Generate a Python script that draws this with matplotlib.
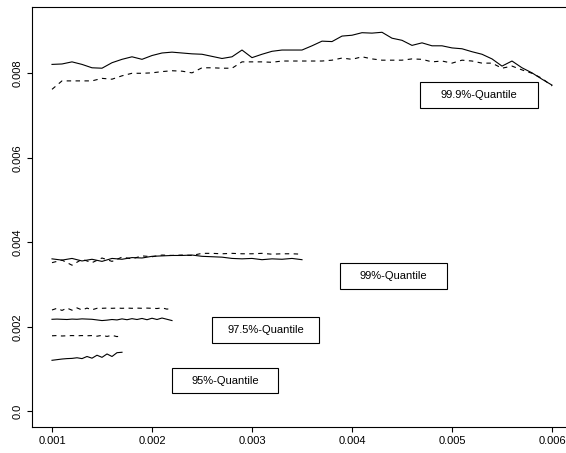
import matplotlib
matplotlib.use("Agg")
import matplotlib.pyplot as plt
import numpy as np
from matplotlib.patches import Rectangle

plt.rcParams['font.family'] = ['Liberation Sans', 'DejaVu Sans']
plt.rcParams['font.size'] = 8

# 99.9% quantile, x = 0.001 .. 0.006
x999 = np.round(np.arange(0.0010, 0.00601, 0.0001), 5)
q999_solid = [0.00821, 0.00822, 0.00827, 0.00821, 0.00813, 0.00812, 0.00825, 0.00833, 0.00839, 0.00833,
              0.00842, 0.00848, 0.00850, 0.00848, 0.00846, 0.00845, 0.00840, 0.00835, 0.00839, 0.00855,
              0.00837, 0.00845, 0.00852, 0.00855, 0.00855, 0.00855, 0.00865, 0.00876, 0.00875, 0.00888,
              0.00890, 0.00896, 0.00895, 0.00897, 0.00883, 0.00878, 0.00866, 0.00872, 0.00865, 0.00865,
              0.00860, 0.00858, 0.00851, 0.00845, 0.00834, 0.00817, 0.00829, 0.00813, 0.00801, 0.00786,
              0.00772]
q999_dash = [0.00762, 0.00782, 0.00782, 0.00782, 0.00782, 0.00788, 0.00786, 0.00794, 0.00800, 0.00800,
             0.00801, 0.00804, 0.00806, 0.00805, 0.00801, 0.00813, 0.00813, 0.00812, 0.00812, 0.00827,
             0.00827, 0.00827, 0.00826, 0.00829, 0.00829, 0.00829, 0.00829, 0.00829, 0.00831, 0.00836,
             0.00833, 0.00839, 0.00834, 0.00831, 0.00831, 0.00831, 0.00834, 0.00833, 0.00827, 0.00829,
             0.00824, 0.00831, 0.00829, 0.00824, 0.00824, 0.00812, 0.00817, 0.00808, 0.00800, 0.00788,
             0.00770]

# 99% quantile, x = 0.001 .. 0.0035
x99 = np.round(np.arange(0.0010, 0.00351, 0.0001), 5)
q99_solid = [0.00361, 0.00358, 0.00362, 0.00356, 0.00360, 0.00355, 0.00362, 0.00360, 0.00364, 0.00363,
             0.00367, 0.00368, 0.00369, 0.00369, 0.00370, 0.00367, 0.00366, 0.00365, 0.00362, 0.00361,
             0.00362, 0.00359, 0.00361, 0.00360, 0.00362, 0.00359]
q99_dash = [0.00352, 0.00358, 0.00346, 0.00360, 0.00352, 0.00363, 0.00355, 0.00365, 0.00361, 0.00368,
            0.00366, 0.00370, 0.00369, 0.00370, 0.00369, 0.00374, 0.00374, 0.00373, 0.00374, 0.00373,
            0.00373, 0.00374, 0.00372, 0.00373, 0.00373, 0.00372]

# 97.5% quantile, x = 0.001 .. 0.0022
x975 = np.round(np.arange(0.0010, 0.002201, 0.00005), 6)
q975_solid = [0.002180, 0.002185, 0.002180, 0.002175, 0.002185, 0.002180, 0.002190, 0.002185, 0.002180,
              0.002165, 0.002150, 0.002160, 0.002175, 0.002165, 0.002190, 0.002170, 0.002195, 0.002175,
              0.002200, 0.002170, 0.002205, 0.002175, 0.002210, 0.002180, 0.002150]
q975_dash = [0.002400, 0.002440, 0.002390, 0.002445, 0.002395, 0.002450, 0.002400, 0.002445, 0.002405,
             0.002440, 0.002440, 0.002445, 0.002440, 0.002445, 0.002440, 0.002445, 0.002440, 0.002445,
             0.002440, 0.002445, 0.002440, 0.002435, 0.002450, 0.002420, 0.002445]

# 95% quantile, x = 0.001 .. 0.0017
x95 = np.round(np.arange(0.0010, 0.001701, 0.00005), 6)
q95_solid = [0.001210, 0.001225, 0.001240, 0.001250, 0.001255, 0.001270, 0.001250, 0.001300,
             0.001260, 0.001330, 0.001280, 0.001360, 0.001300, 0.001390, 0.001400]
q95_dash = [0.001790, 0.001795, 0.001785, 0.001790, 0.001795, 0.001790, 0.001795, 0.001790,
            0.001795, 0.001780, 0.001800, 0.001775, 0.001800, 0.001770, 0.001795]

labels = ["99.9%-Quantile", "99%-Quantile", "97.5%-Quantile", "95%-Quantile"]
# box corners (x0, x1, y0, y1) in data units
boxes = [(0.00468, 0.00586, 0.00717, 0.00779),
         (0.00388, 0.00495, 0.00289, 0.00351),
         (0.00260, 0.00367, 0.00162, 0.00223),
         (0.00220, 0.00326, 0.00043, 0.00103)]

fig = plt.figure(figsize=(5.66, 4.53), dpi=100)
ax = fig.add_axes([32/566, 26/453, 540/566, 420/453])

dash = (0, (4, 4))
for xs, s, d in [(x999, q999_solid, q999_dash), (x99, q99_solid, q99_dash),
                 (x975, q975_solid, q975_dash), (x95, q95_solid, q95_dash)]:
    ax.plot(xs, s, color='black', lw=0.8)
    ax.plot(xs, d, color='black', lw=0.8, linestyle=dash)

for lab, (x0, x1, y0, y1) in zip(labels, boxes):
    ax.add_patch(Rectangle((x0, y0), x1 - x0, y1 - y0, fc='white', ec='black', lw=0.8))
    ax.text((x0 + x1) / 2, (y0 + y1) / 2, lab, ha='center', va='center', fontsize=8)

ax.set_xlim(0.0008, 0.0062)
ax.set_ylim(-0.000368, 0.009568)
ax.set_xticks([0.001, 0.002, 0.003, 0.004, 0.005, 0.006])
ax.set_xticklabels(['0.001', '0.002', '0.003', '0.004', '0.005', '0.006'])
ax.set_yticks([0.0, 0.002, 0.004, 0.006, 0.008])
ax.set_yticklabels(['0.0', '0.002', '0.004', '0.006', '0.008'], rotation=90, va='center')
ax.tick_params(direction='out', length=3.5, width=0.8, pad=3)
for sp in ax.spines.values():
    sp.set_linewidth(0.8)

fig.savefig('out.png', dpi=100)
